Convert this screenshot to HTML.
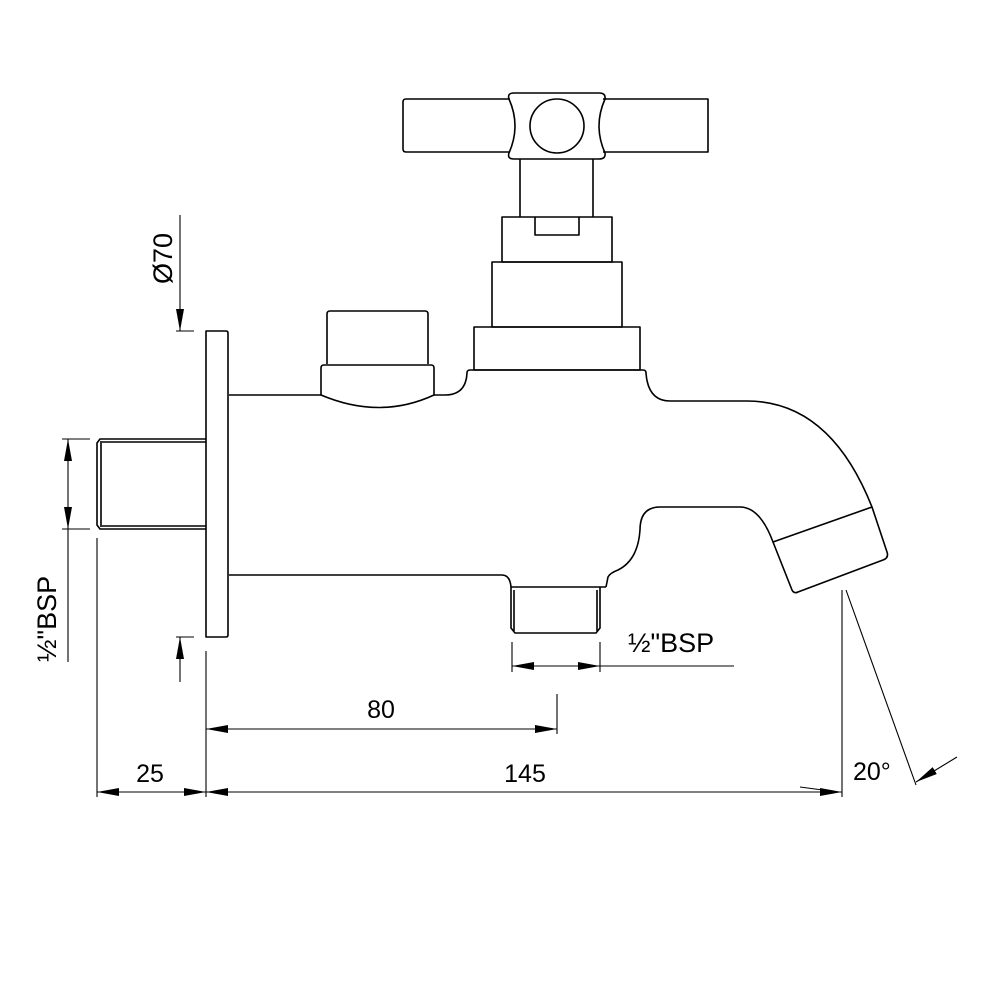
<!DOCTYPE html>
<html><head><meta charset="utf-8"><style>html,body{margin:0;padding:0;background:#fff}svg{display:block}</style></head><body>
<svg width="1000" height="1000" viewBox="0 0 1000 1000" xmlns="http://www.w3.org/2000/svg">
<defs>
<marker id="a" viewBox="0 0 22 8" refX="22" refY="4" markerWidth="22" markerHeight="8" markerUnits="userSpaceOnUse" orient="auto"><path d="M0,0L22,4L0,8z" fill="#000"/></marker>
</defs>
<g fill="none" stroke="#000" stroke-width="1.6" stroke-linejoin="round">
<path d="M510,99 H406 Q403,99 403,102 V149 Q403,152 406,152 H510"/>
<path d="M603,99 H708 V152 H603"/>
<path d="M514,93 H599 Q606,93 605,99 Q593,126 605,153 Q606,159 599,159 H514 Q507,159 509,153 Q521,126 509,99 Q507,93 514,93Z"/>
<circle cx="557" cy="126" r="27"/>
<path d="M520,159 V217 M593,159 V217"/>
<rect x="502" y="217" width="110" height="45"/>
<path d="M535,217 V235 H579 V217"/>
<rect x="492" y="262" width="130" height="65"/>
<rect x="474" y="327" width="166" height="43"/>
<path d="M327,364 V314 Q327,311 330,311 H425 Q428,311 428,314 V364"/>
<path d="M321,395 V368 Q321,365 324,365 H431 Q434,365 434,368 V395 Q380,420 321,395Z"/>
<path d="M229,395 H321 M434,395 H445 Q466,395 467,373 Q467,370 470,370 H643 Q646,370 646,373 Q648,401 670,401 H747 Q830,401 872,507 L887,552 Q889,558 883,560 L798,592 Q794,594 792,590 L773,542 Q760,507 740,507 H660 Q640,507 640,530 Q638,560 618,570 Q610,573 608,577 L606,587"/>
<path d="M773,542 L872,507"/>
<path d="M229,575 H502 Q510,575 511,587"/>
<path d="M511,587 V628 L515,633 H596 L600,628 V587 M511,587 H606"/>
<path d="M514,590 V631 M597,590 V631"/>
<path d="M206,331 H226 Q228,331 228,333 V635 Q228,637 226,637 H206Z"/>
<path d="M206,439 H100 L97,443 V525 L100,529 H206"/>
<path d="M102,442 H206 M102,526 H206 M101,441 V527"/>
</g>
<g fill="none" stroke="#000" stroke-width="1.1">
<line x1="180" y1="215" x2="180" y2="331" marker-end="url(#a)"/>
<line x1="176" y1="331" x2="194" y2="331"/>
<line x1="180" y1="682" x2="180" y2="637" marker-end="url(#a)"/>
<line x1="176" y1="637" x2="194" y2="637"/>
<line x1="62" y1="439" x2="90" y2="439"/>
<line x1="62" y1="529" x2="90" y2="529"/>
<line x1="68" y1="484" x2="68" y2="439" marker-end="url(#a)"/>
<line x1="68" y1="484" x2="68" y2="529" marker-end="url(#a)"/>
<line x1="68" y1="529" x2="68" y2="662"/>
<line x1="97" y1="538" x2="97" y2="797"/>
<line x1="206" y1="651" x2="206" y2="797"/>
<line x1="842" y1="590" x2="842" y2="797"/>
<line x1="557" y1="694" x2="557" y2="734"/>
<line x1="512" y1="642" x2="512" y2="672"/>
<line x1="600" y1="642" x2="600" y2="672"/>
<line x1="556" y1="666" x2="512" y2="666" marker-end="url(#a)"/>
<line x1="556" y1="666" x2="600" y2="666" marker-end="url(#a)"/>
<line x1="600" y1="666" x2="734" y2="666"/>
<line x1="380" y1="729" x2="206" y2="729" marker-end="url(#a)"/>
<line x1="380" y1="729" x2="557" y2="729" marker-end="url(#a)"/>
<line x1="150" y1="792" x2="97" y2="792" marker-end="url(#a)"/>
<line x1="150" y1="792" x2="206" y2="792" marker-end="url(#a)"/>
<line x1="520" y1="792" x2="206" y2="792" marker-end="url(#a)"/>
<line x1="520" y1="792" x2="842" y2="792" marker-end="url(#a)"/>
<line x1="800" y1="787" x2="830" y2="791"/>
<line x1="846" y1="590" x2="916" y2="785"/>
<line x1="957" y1="757" x2="916" y2="782" marker-end="url(#a)"/>
</g>
<g font-family="Liberation Sans, DejaVu Sans, sans-serif" font-size="25" fill="#000">
<text x="381" y="718" text-anchor="middle">80</text>
<text x="150" y="782" text-anchor="middle">25</text>
<text x="525" y="782" text-anchor="middle">145</text>
<text x="853" y="780">20°</text>
<text x="628" y="652" font-size="27">½"BSP</text>
<text transform="translate(172,284) rotate(-90)" font-size="27">Ø70</text>
<text transform="translate(56,662) rotate(-90)" font-size="27">½"BSP</text>
</g>
</svg>
</body></html>
